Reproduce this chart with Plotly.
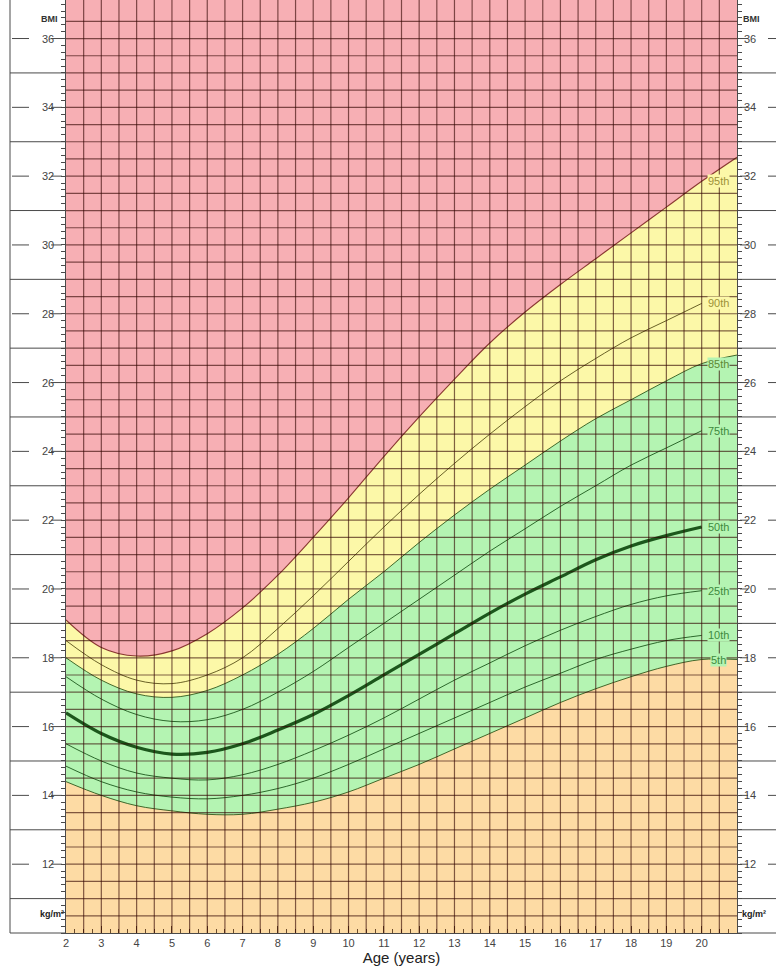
import plotly.graph_objects as go
import numpy as np

# ---------------- data ----------------
ages = list(range(2, 21))                 # 2 .. 20 years
ages_ext = ages + [21]                    # fill boundaries run to the chart edge

p95 = [19.1, 18.3, 18.05, 18.2, 18.7, 19.45, 20.4, 21.5, 22.65, 23.85, 25.0, 26.1,
       27.15, 28.05, 28.85, 29.6, 30.35, 31.1, 31.85, 32.55]
p90 = [18.5, 17.8, 17.35, 17.25, 17.5, 18.0, 18.85, 19.8, 20.8, 21.8, 22.75, 23.65,
       24.5, 25.3, 26.05, 26.7, 27.3, 27.8, 28.3]
p85 = [18.0, 17.35, 16.95, 16.85, 17.05, 17.5, 18.1, 18.85, 19.7, 20.5, 21.35, 22.15,
       22.9, 23.6, 24.3, 24.95, 25.5, 26.05, 26.55, 26.8]
p75 = [17.45, 16.8, 16.35, 16.15, 16.2, 16.5, 17.0, 17.6, 18.3, 19.0, 19.7, 20.4,
       21.1, 21.75, 22.4, 23.0, 23.6, 24.1, 24.6]
p50 = [16.4, 15.8, 15.4, 15.2, 15.25, 15.5, 15.9, 16.35, 16.9, 17.5, 18.1, 18.7,
       19.3, 19.85, 20.35, 20.85, 21.25, 21.55, 21.8]
p25 = [15.5, 15.0, 14.65, 14.5, 14.45, 14.6, 14.9, 15.3, 15.75, 16.25, 16.8, 17.35,
       17.85, 18.35, 18.8, 19.2, 19.55, 19.8, 19.95]
p10 = [14.85, 14.4, 14.1, 13.95, 13.9, 14.0, 14.2, 14.5, 14.9, 15.35, 15.8, 16.25,
       16.7, 17.15, 17.55, 17.95, 18.25, 18.5, 18.65]
p5 = [14.4, 14.0, 13.7, 13.55, 13.45, 13.45, 13.6, 13.8, 14.1, 14.5, 14.9, 15.35,
      15.8, 16.25, 16.7, 17.1, 17.45, 17.75, 17.95, 17.95]

bmi_ticks = [12, 14, 16, 18, 20, 22, 24, 26, 28, 30, 32, 34, 36]
age_ticks = ages
age_labels = [str(a) for a in ages]
pct_names = ["95th", "90th", "85th", "75th", "50th", "25th", "10th", "5th"]

# ---------------- style ----------------
W, H = 776, 973
ML, MR, MT, MB = 66, 39, 0, 40
PW = W - ML - MR
X_RANGE = [2, 21]
Y_RANGE = [10, 37.12]

PINK = "#F7AFB4"
YELLOW = "#FCF8A8"
GREEN = "#B4F4B2"
PEACH = "#FDDBA4"
GRID = "rgba(50,5,0,0.62)"
AXC = "#4a4a4a"
FONT = "Liberation Sans, Arial, sans-serif"


def px(xp):
    return (xp - ML) / PW


fig = go.Figure()

# zone fills (background of plot is the pink zone)
fig.add_trace(go.Scatter(x=ages_ext, y=p95, mode="lines", fill="tozeroy",
                         fillcolor=YELLOW, line=dict(width=0, shape="spline"),
                         hoverinfo="skip", showlegend=False))
fig.add_trace(go.Scatter(x=ages_ext, y=p85, mode="lines", fill="tozeroy",
                         fillcolor=GREEN, line=dict(width=0, shape="spline"),
                         hoverinfo="skip", showlegend=False))
fig.add_trace(go.Scatter(x=ages_ext, y=p5, mode="lines", fill="tozeroy",
                         fillcolor=PEACH, line=dict(width=0, shape="spline"),
                         hoverinfo="skip", showlegend=False))

# percentile curves
curves = [
    (ages_ext, p95, "rgba(125,40,35,0.9)", 1.1),
    (ages, p90, "rgba(80,70,15,0.85)", 1.0),
    (ages_ext, p85, "rgba(40,80,20,0.85)", 1.0),
    (ages, p75, "rgba(20,80,20,0.85)", 1.0),
    (ages, p50, "#1c571c", 3.2),
    (ages, p25, "rgba(20,80,20,0.85)", 1.0),
    (ages, p10, "rgba(20,80,20,0.85)", 1.0),
    (ages_ext, p5, "rgba(40,80,20,0.85)", 1.0),
]
for xs, ys, col, w in curves:
    fig.add_trace(go.Scatter(x=xs, y=ys, mode="lines",
                             line=dict(color=col, width=w, shape="spline"),
                             hoverinfo="skip", showlegend=False))

shapes = []
# chart grid (every half year / half BMI unit), drawn above fills
for v in np.arange(2.5, 21.0, 0.5):
    shapes.append(dict(type="line", xref="x", yref="paper", x0=v, x1=v, y0=0, y1=1,
                       line=dict(color=GRID, width=1.2), layer="above"))
for v in np.arange(10.5, 36.6, 0.5):
    shapes.append(dict(type="line", xref="paper", yref="y", x0=0, x1=1, y0=v, y1=v,
                       line=dict(color=GRID, width=1.2), layer="above"))

# side panels: separators at odd values, dashes around tick labels
for v in range(11, 36, 2):
    shapes.append(dict(type="line", xref="paper", yref="y", x0=px(10), x1=px(66),
                       y0=v, y1=v, line=dict(color=AXC, width=1)))
    shapes.append(dict(type="line", xref="paper", yref="y", x0=px(737), x1=px(776),
                       y0=v, y1=v, line=dict(color=AXC, width=1)))
for v in bmi_ticks:
    for a, b in [(12, 29), (51, 62), (740, 748), (768, 776)]:
        shapes.append(dict(type="line", xref="paper", yref="y", x0=px(a), x1=px(b),
                           y0=v, y1=v, line=dict(color=AXC, width=1)))
shapes.append(dict(type="line", xref="paper", yref="paper", x0=px(10), x1=px(10),
                   y0=0, y1=1, line=dict(color=AXC, width=1)))
shapes.append(dict(type="line", xref="paper", yref="paper", x0=px(10), x1=px(66),
                   y0=0, y1=0, line=dict(color=AXC, width=1)))
shapes.append(dict(type="line", xref="paper", yref="paper", x0=px(737), x1=px(776),
                   y0=0, y1=0, line=dict(color=AXC, width=1)))

annotations = []
for v in bmi_ticks:
    annotations.append(dict(x=px(40), y=v, xref="paper", yref="y", text=str(v),
                            showarrow=False, font=dict(size=11, color="#444", family=FONT)))
    annotations.append(dict(x=px(758), y=v, xref="paper", yref="y", text=str(v),
                            showarrow=False, font=dict(size=11, color="#444", family=FONT)))
annotations.append(dict(x=px(39), y=36.58, xref="paper", yref="y", text="<b>BMI</b>",
                        showarrow=False, font=dict(size=9, color="#333", family=FONT)))
annotations.append(dict(x=px(741), y=36.58, xref="paper", yref="y", text="<b>BMI</b>",
                        xanchor="left", showarrow=False,
                        font=dict(size=9, color="#333", family=FONT)))
annotations.append(dict(x=px(38), y=10.55, xref="paper", yref="y", text="<b>kg/m²</b>",
                        showarrow=False, font=dict(size=9, color="#222", family=FONT)))
annotations.append(dict(x=px(740), y=10.55, xref="paper", yref="y", text="<b>kg/m²</b>",
                        xanchor="left", showarrow=False,
                        font=dict(size=9, color="#222", family=FONT)))

# percentile labels at the end of each curve
label_series = [p95[len(ages) - 1], p90[-1], p85[len(ages) - 1], p75[-1], p50[-1],
                p25[-1], p10[-1], p5[len(ages) - 1]]
label_colors = ["#9c9238", "#9c9238", "#5e8a34", "#3e8a3e", "#3e8a3e", "#3e8a3e",
                "#3e8a3e", "#3e8a3e"]
label_bg = [YELLOW, YELLOW, GREEN, GREEN, GREEN, GREEN, GREEN, GREEN]
for name, yv, c, bg in zip(pct_names, label_series, label_colors, label_bg):
    annotations.append(dict(x=20.47, y=yv, xref="x", yref="y", text=name, showarrow=False,
                            bgcolor=bg, borderpad=0,
                            font=dict(size=11, color=c, family=FONT)))

fig.update_layout(
    width=W, height=H,
    margin=dict(l=ML, r=MR, t=MT, b=MB),
    paper_bgcolor="white", plot_bgcolor=PINK,
    font=dict(family=FONT),
    shapes=shapes, annotations=annotations,
    xaxis=dict(range=X_RANGE, showgrid=False, zeroline=False, showline=True,
               linecolor=AXC, linewidth=1, ticks="inside", ticklen=7,
               tickcolor="#6a4a2a", tickvals=age_ticks, ticktext=age_labels,
               tickfont=dict(size=11, color="#444", family=FONT),
               minor=dict(tick0=2, dtick=0.25, ticks="inside", ticklen=4,
                          tickcolor="#6a4a2a"),
               title=dict(text="Age (years)", font=dict(size=15, color="#222", family=FONT),
                          standoff=4)),
    yaxis=dict(range=Y_RANGE, showgrid=False, zeroline=False, showline=True,
               mirror="ticks", linecolor=AXC, linewidth=1, ticks="outside", ticklen=4,
               tickcolor=AXC, tick0=10, dtick=2, showticklabels=False,
               minor=dict(dtick=0.2, ticks="outside", ticklen=4, tickcolor=AXC)),
)

fig.write_html("out.html", config={"displayModeBar": False},
               post_script="document.body.style.margin='0';")
